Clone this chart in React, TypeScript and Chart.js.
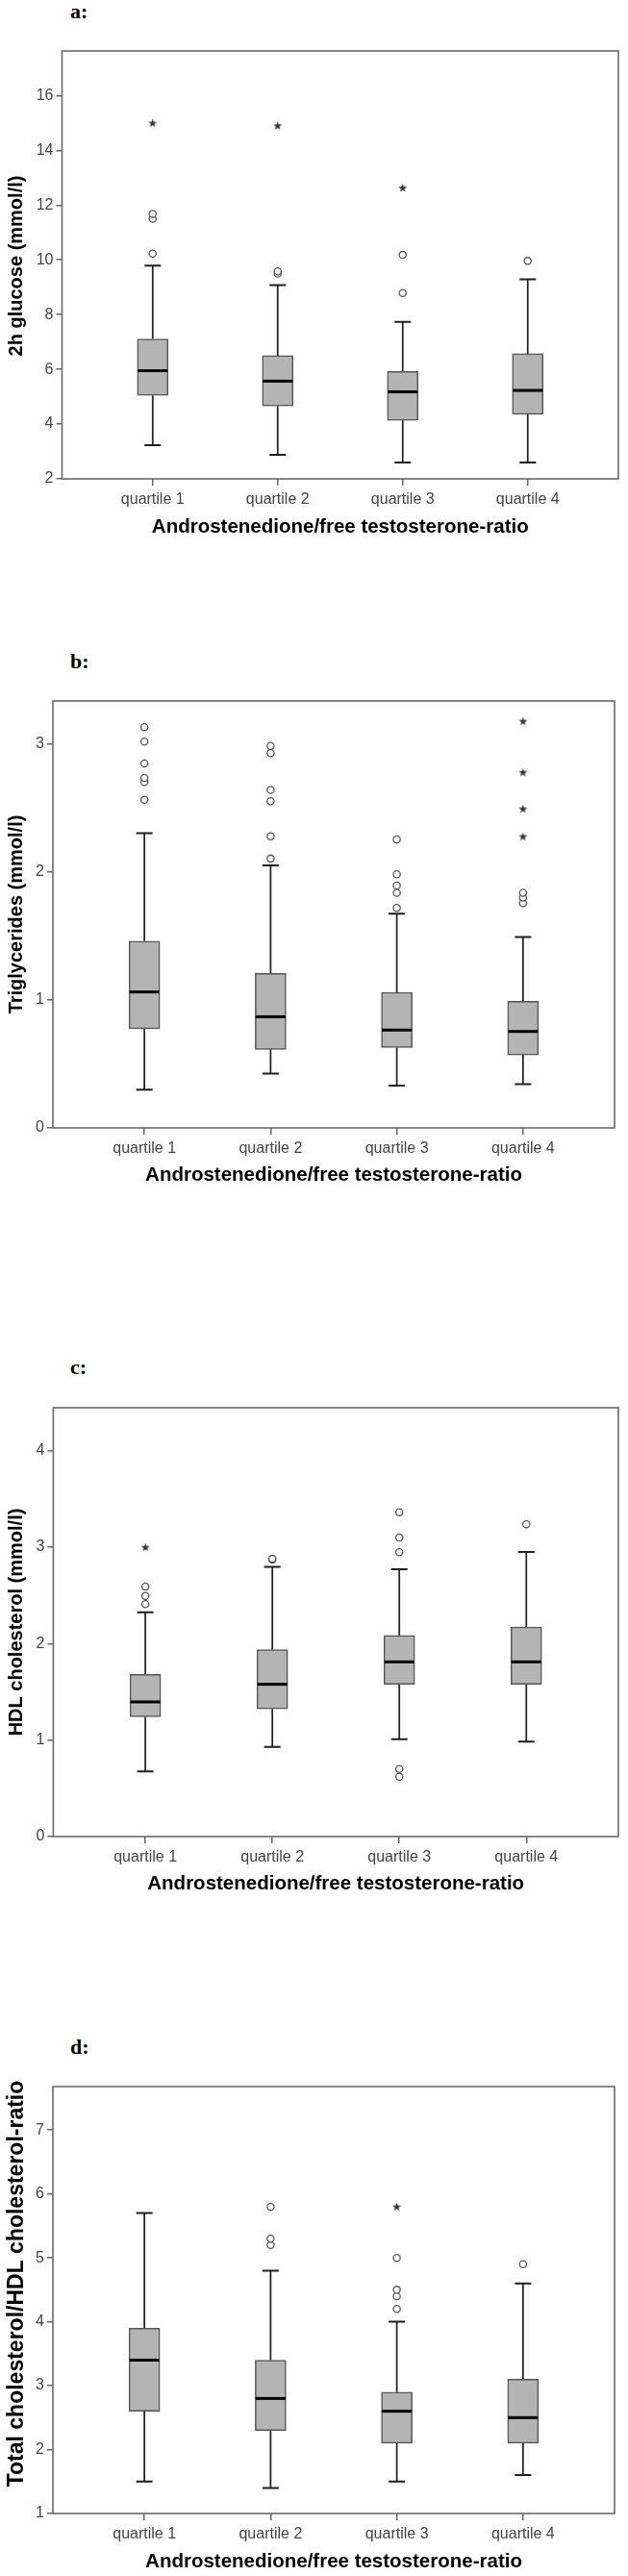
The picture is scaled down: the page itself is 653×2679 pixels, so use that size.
import React, { useEffect, useRef } from 'react';
import { Chart, registerables } from 'chart.js';

Chart.register(...registerables);

// ---------- shared data ----------
const categories = ['quartile 1', 'quartile 2', 'quartile 3', 'quartile 4'];
const xAxisTitle = 'Androstenedione/free testosterone-ratio';

// ---------- a: 2h glucose ----------
const glucoseLow = [3.23, 2.88, 2.6, 2.6];
const glucoseQ1 = [5.05, 4.66, 4.14, 4.36];
const glucoseMedian = [5.95, 5.57, 5.18, 5.23];
const glucoseQ3 = [7.11, 6.5, 5.92, 6.57];
const glucoseHigh = [9.79, 9.08, 7.73, 9.29];
const glucoseOutliers = [[10.23, 11.5, 11.68], [9.5, 9.58], [8.79, 10.18], [9.96]];
const glucoseExtremes = [[15.0], [14.9], [12.63], []];
const glucoseTicks = [2, 4, 6, 8, 10, 12, 14, 16];

// ---------- b: triglycerides ----------
const trigLow = [0.298, 0.424, 0.33, 0.343];
const trigQ1 = [0.775, 0.614, 0.628, 0.571];
const trigMedian = [1.063, 0.869, 0.765, 0.754];
const trigQ3 = [1.46, 1.207, 1.06, 0.99];
const trigHigh = [2.305, 2.053, 1.674, 1.492];
const trigOutliers = [
  [2.565, 2.705, 2.737, 2.85, 3.02, 3.134],
  [2.106, 2.28, 2.554, 2.643, 2.93, 2.986],
  [1.72, 1.838, 1.894, 1.983, 2.256],
  [1.757, 1.8, 1.838],
];
const trigExtremes = [[], [], [], [2.278, 2.495, 2.78, 3.18]];
const trigTicks = [0, 1, 2, 3];

// ---------- c: HDL cholesterol ----------
const hdlLow = [0.675, 0.93, 1.01, 0.984];
const hdlQ1 = [1.243, 1.323, 1.579, 1.579];
const hdlMedian = [1.396, 1.579, 1.811, 1.811];
const hdlQ3 = [1.682, 1.937, 2.086, 2.173];
const hdlHigh = [2.326, 2.795, 2.772, 2.951];
const hdlOutliers = [[2.41, 2.494, 2.593], [2.87, 2.88], [0.62, 0.7, 2.948, 3.1, 3.363], [3.237]];
const hdlExtremes = [[3.0], [], [], []];
const hdlTicks = [0, 1, 2, 3, 4];

// ---------- d: total/HDL cholesterol ratio ----------
const ratioLow = [1.5, 1.4, 1.5, 1.6];
const ratioQ1 = [2.6, 2.3, 2.1, 2.1];
const ratioMedian = [3.4, 2.8, 2.6, 2.5];
const ratioQ3 = [3.9, 3.4, 2.9, 3.1];
const ratioHigh = [5.7, 4.8, 4.0, 4.6];
const ratioOutliers = [[], [5.2, 5.3, 5.8], [4.2, 4.4, 4.5, 5.0], [4.9]];
const ratioExtremes = [[], [], [5.8], []];
const ratioTicks = [1, 2, 3, 4, 5, 6, 7];

const FONT = '"Liberation Sans", Arial, Helvetica, sans-serif';

type Stats = { low: number[]; q1: number[]; med: number[]; q3: number[]; high: number[] };

const panels = [
  {
    letter: 'a:', yTitle: '2h glucose (mmol/l)',
    stats: { low: glucoseLow, q1: glucoseQ1, med: glucoseMedian, q3: glucoseQ3, high: glucoseHigh },
    outliers: glucoseOutliers, extremes: glucoseExtremes, ticks: glucoseTicks, yMin: 2, yMax: 17.63,
    top: 40, height: 530, padTop: 13, padRight: 10, yW: 64.5, xH: 72, titlePad: 9,
    letterTop: 1, yTitleSize: 20, yTitleX: 17, yTitleDy: 1,
  },
  {
    letter: 'b:', yTitle: 'Triglycerides (mmol/l)',
    stats: { low: trigLow, q1: trigQ1, med: trigMedian, q3: trigQ3, high: trigHigh },
    outliers: trigOutliers, extremes: trigExtremes, ticks: trigTicks, yMin: 0, yMax: 3.338,
    top: 715, height: 530, padTop: 14, padRight: 14, yW: 55, xH: 72, titlePad: 10,
    letterTop: 677, yTitleSize: 20, yTitleX: 17.5, yTitleDy: 0,
  },
  {
    letter: 'c:', yTitle: 'HDL cholesterol (mmol/l)',
    stats: { low: hdlLow, q1: hdlQ1, med: hdlMedian, q3: hdlQ3, high: hdlHigh },
    outliers: hdlOutliers, extremes: hdlExtremes, ticks: hdlTicks, yMin: 0, yMax: 4.446,
    top: 1450, height: 532, padTop: 14, padRight: 10, yW: 55.4, xH: 72, titlePad: 10,
    letterTop: 1411, yTitleSize: 20, yTitleX: 17.5, yTitleDy: 0,
  },
  {
    letter: 'd:', yTitle: 'Total cholesterol/HDL cholesterol-ratio',
    stats: { low: ratioLow, q1: ratioQ1, med: ratioMedian, q3: ratioQ3, high: ratioHigh },
    outliers: ratioOutliers, extremes: ratioExtremes, ticks: ratioTicks, yMin: 1, yMax: 7.68,
    top: 2156, height: 523, padTop: 14, padRight: 14, yW: 55, xH: 65, titlePad: 2,
    letterTop: 2118, yTitleSize: 23, yTitleX: 18, yTitleDy: -17,
  },
];

const boxPlugin = {
  id: 'boxExtras',
  beforeDatasetsDraw(chart: any, _args: any, opts: any) {
    const { ctx, scales } = chart;
    const x = scales.x, y = scales.y;
    const s: Stats = opts.stats;
    ctx.save();
    for (let i = 0; i < s.low.length; i++) {
      const px = x.getPixelForValue(i);
      ctx.strokeStyle = '#1e1e1e';
      ctx.lineWidth = 1.7;
      ctx.beginPath();
      ctx.moveTo(px, y.getPixelForValue(s.low[i]));
      ctx.lineTo(px, y.getPixelForValue(s.q1[i]));
      ctx.moveTo(px, y.getPixelForValue(s.q3[i]));
      ctx.lineTo(px, y.getPixelForValue(s.high[i]));
      ctx.stroke();
      ctx.lineWidth = 2;
      ctx.beginPath();
      const cw = 8.5;
      [s.low[i], s.high[i]].forEach((v) => {
        const py = y.getPixelForValue(v);
        ctx.moveTo(px - cw, py);
        ctx.lineTo(px + cw, py);
      });
      ctx.stroke();
    }
    ctx.restore();
  },
  afterDatasetsDraw(chart: any, _args: any, opts: any) {
    const { ctx, scales } = chart;
    const x = scales.x, y = scales.y;
    const s: Stats = opts.stats;
    ctx.save();
    ctx.strokeStyle = '#000';
    ctx.lineWidth = 3;
    for (let i = 0; i < s.med.length; i++) {
      const px = x.getPixelForValue(i);
      const pm = y.getPixelForValue(s.med[i]);
      ctx.beginPath();
      ctx.moveTo(px - 15.5, pm);
      ctx.lineTo(px + 15.5, pm);
      ctx.stroke();
    }
    ctx.restore();
  },
  afterDraw(chart: any, _args: any, opts: any) {
    const { ctx, chartArea } = chart;
    ctx.save();
    ctx.strokeStyle = '#6a6a6a';
    ctx.lineWidth = 1.6;
    ctx.strokeRect(chartArea.left, chartArea.top, chartArea.right - chartArea.left, chartArea.bottom - chartArea.top);
    ctx.translate(opts.yTitleX, (chartArea.top + chartArea.bottom) / 2 + opts.yTitleDy);
    ctx.rotate(-Math.PI / 2);
    ctx.fillStyle = '#000';
    ctx.font = `bold ${opts.yTitleSize}px ${FONT}`;
    ctx.textAlign = 'center';
    ctx.textBaseline = 'middle';
    ctx.fillText(opts.yTitle, 0, 0);
    ctx.restore();
  },
};

function makeStar(): HTMLCanvasElement {
  const c = document.createElement('canvas');
  c.width = 11;
  c.height = 11;
  const g = c.getContext('2d')!;
  g.fillStyle = '#333';
  g.beginPath();
  const cx = 5.5, cy = 5.8, ro = 4.8, ri = 1.9;
  for (let k = 0; k < 10; k++) {
    const r = k % 2 === 0 ? ro : ri;
    const a = -Math.PI / 2 + (k * Math.PI) / 5;
    const px = cx + r * Math.cos(a);
    const py = cy + r * Math.sin(a);
    if (k === 0) g.moveTo(px, py);
    else g.lineTo(px, py);
  }
  g.closePath();
  g.fill();
  return c;
}

function Panel({ cfg }: { cfg: any }) {
  const ref = useRef<HTMLCanvasElement>(null);
  useEffect(() => {
    if (!ref.current) return;
    const star = makeStar();
    const s: Stats = cfg.stats;
    const outPts = (cfg.outliers as number[][]).flatMap((vals, i) => vals.map((v) => ({ x: i, y: v })));
    const extPts = (cfg.extremes as number[][]).flatMap((vals, i) => vals.map((v) => ({ x: i, y: v })));
    const boxes = categories.map((_, i) => ({ x: i, y: [s.q1[i], s.q3[i]] }));
    const tickFont = { family: FONT, size: 16 };
    const chart = new Chart(ref.current, {
      type: 'bar',
      data: {
        datasets: [
          {
            type: 'scatter',
            data: extPts,
            pointStyle: star,
            pointRadius: 5,
            pointHoverRadius: 5,
          } as any,
          {
            type: 'scatter',
            data: outPts,
            pointStyle: 'circle',
            pointRadius: 3.6,
            pointHoverRadius: 3.6,
            pointBorderWidth: 1.3,
            pointBorderColor: '#555',
            pointBackgroundColor: '#fff',
          } as any,
          {
            type: 'bar',
            data: boxes,
            backgroundColor: '#b4b4b4',
            borderColor: '#555',
            borderWidth: 1.5,
            borderSkipped: false,
            barThickness: 32,
          } as any,
        ],
      },
      plugins: [boxPlugin as any],
      options: {
        responsive: false,
        animation: false,
        devicePixelRatio: 1,
        layout: { padding: { top: cfg.padTop, right: cfg.padRight, left: 0, bottom: 0 } },
        plugins: {
          legend: { display: false },
          tooltip: { enabled: false },
          boxExtras: {
            stats: s,
            yTitle: cfg.yTitle,
            yTitleSize: cfg.yTitleSize,
            yTitleX: cfg.yTitleX,
            yTitleDy: cfg.yTitleDy,
          },
        } as any,
        scales: {
          x: {
            type: 'linear',
            offset: false,
            min: -0.725,
            max: 3.725,
            afterBuildTicks: (sc: any) => {
              sc.ticks = categories.map((_, i) => ({ value: i }));
            },
            afterFit: (sc: any) => {
              sc.height = cfg.xH;
            },
            grid: { offset: false, drawOnChartArea: false, drawTicks: true, tickLength: 7, color: '#666', lineWidth: 1.5 },
            border: { display: false },
            ticks: {
              callback: (_v: any, i: number) => categories[i],
              font: tickFont,
              color: '#444',
              padding: 5,
              maxRotation: 0,
              autoSkip: false,
            },
            title: {
              display: true,
              text: xAxisTitle,
              font: { family: FONT, size: 20.5, weight: 'bold' },
              color: '#000',
              padding: { top: 0, bottom: cfg.titlePad },
            },
          },
          y: {
            type: 'linear',
            min: cfg.yMin,
            max: cfg.yMax,
            afterBuildTicks: (sc: any) => {
              sc.ticks = (cfg.ticks as number[]).map((v) => ({ value: v }));
            },
            afterFit: (sc: any) => {
              sc.width = cfg.yW;
            },
            grid: { drawOnChartArea: false, drawTicks: true, tickLength: 6, color: '#666', lineWidth: 1.5 },
            border: { display: false },
            ticks: {
              font: tickFont,
              color: '#444',
              padding: 3,
              callback: (v: any) => String(v),
            },
          },
        },
      } as any,
    });
    return () => chart.destroy();
  }, [cfg]);
  return (
    <>
      <div
        style={{
          position: 'absolute',
          left: 73,
          top: cfg.letterTop,
          font: 'bold 22px "Liberation Serif", "Times New Roman", serif',
          lineHeight: '22px',
          color: '#000',
        }}
      >
        {cfg.letter}
      </div>
      <canvas
        ref={ref}
        width={653}
        height={cfg.height}
        style={{ position: 'absolute', left: 0, top: cfg.top, width: 653, height: cfg.height }}
      />
    </>
  );
}

export default function App() {
  return (
    <div
      style={{
        position: 'absolute',
        left: 0,
        top: 0,
        width: 653,
        height: 2679,
        overflow: 'hidden',
        background: '#fff',
      }}
    >
      {panels.map((p) => (
        <Panel key={p.letter} cfg={p} />
      ))}
    </div>
  );
}
